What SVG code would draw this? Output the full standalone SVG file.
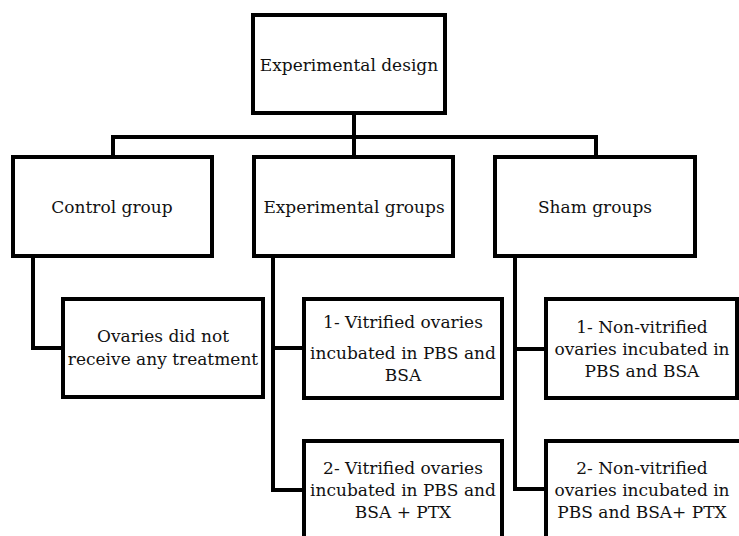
<svg xmlns="http://www.w3.org/2000/svg" width="739" height="536" viewBox="0 0 739 536">
<style>
.box{fill:#fff;stroke:#000;stroke-width:4}
.conn{fill:none;stroke:#000;stroke-width:4}
.t{font-family:'DejaVu Serif',serif;font-size:17px;fill:#111;text-anchor:middle}
</style>
<rect width="739" height="536" fill="#fff"/>
<g id="connectors">
<polyline class="conn" points="354,113 354,157"/>
<polyline class="conn" points="113,157 113,137 596,137 596,157"/>
<polyline class="conn" points="33,256 33,348 63,348"/>
<polyline class="conn" points="273,256 273,490 304,490"/>
<polyline class="conn" points="273,348 304,348"/>
<polyline class="conn" points="515,256 515,489 546,489"/>
<polyline class="conn" points="515,349 546,349"/>
</g>
<g id="root">
<rect class="box" x="253" y="15" width="192" height="98"/>
<text class="t" x="349" y="71">Experimental design</text>
</g>
<g id="control">
<rect class="box" x="13" y="157" width="199" height="99"/>
<text class="t" x="112" y="213">Control group</text>
</g>
<g id="experimental">
<rect class="box" x="254" y="157" width="199" height="99"/>
<text class="t" x="354" y="213">Experimental groups</text>
</g>
<g id="sham">
<rect class="box" x="495" y="157" width="200" height="99"/>
<text class="t" x="595" y="213">Sham groups</text>
</g>
<g id="control-child">
<rect class="box" x="63" y="299" width="200" height="98"/>
<text class="t" x="163" y="342">Ovaries did not</text>
<text class="t" x="163" y="365">receive any treatment</text>
</g>
<g id="exp-1">
<rect class="box" x="304" y="299" width="198" height="99"/>
<text class="t" x="403" y="328">1- Vitrified ovaries</text>
<text class="t" x="403" y="359">incubated in PBS and</text>
<text class="t" x="403" y="381">BSA</text>
</g>
<g id="sham-1">
<rect class="box" x="546" y="299" width="191" height="99"/>
<text class="t" x="642" y="333">1- Non-vitrified</text>
<text class="t" x="642" y="355">ovaries incubated in</text>
<text class="t" x="642" y="377">PBS and BSA</text>
</g>
<g id="exp-2">
<rect class="box" x="304" y="441" width="198" height="110"/>
<text class="t" x="403" y="474">2- Vitrified ovaries</text>
<text class="t" x="403" y="496">incubated in PBS and</text>
<text class="t" x="403" y="518">BSA + PTX</text>
</g>
<g id="sham-2">
<rect class="box" x="546" y="441" width="210" height="110"/>
<text class="t" x="642" y="474">2- Non-vitrified</text>
<text class="t" x="642" y="496">ovaries incubated in</text>
<text class="t" x="642" y="518">PBS and BSA+ PTX</text>
</g>
</svg>
